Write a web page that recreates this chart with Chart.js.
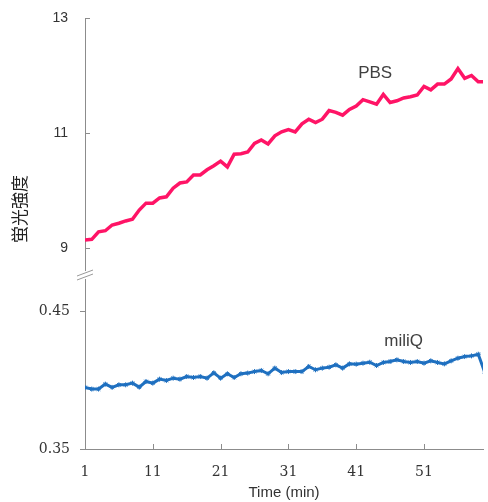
<!DOCTYPE html>
<html>
<head>
<meta charset="utf-8">
<script src="https://cdn.jsdelivr.net/npm/chart.js@4.4.1/dist/chart.umd.min.js"></script>
<style>
  html, body { margin: 0; padding: 0; background: #fff; }
</style>
</head>
<body>
<canvas id="grafico" width="488" height="502"></canvas>
<script>
// minutos (eixo x)
const minutos = [1, 2, 3, 4, 5, 6, 7, 8, 9, 10, 11, 12, 13, 14, 15, 16, 17, 18, 19, 20,
  21, 22, 23, 24, 25, 26, 27, 28, 29, 30, 31, 32, 33, 34, 35, 36, 37, 38, 39, 40,
  41, 42, 43, 44, 45, 46, 47, 48, 49, 50, 51, 52, 53, 54, 55, 56, 57, 58, 59, 60];

// PBS - painel de cima
const pbs = [9.14, 9.15, 9.28, 9.30, 9.40, 9.43, 9.47, 9.50, 9.66, 9.78,
  9.78, 9.87, 9.89, 10.04, 10.13, 10.15, 10.27, 10.27, 10.36, 10.43,
  10.51, 10.41, 10.63, 10.64, 10.67, 10.82, 10.88, 10.81, 10.95, 11.02,
  11.06, 11.02, 11.16, 11.24, 11.18, 11.24, 11.39, 11.36, 11.31, 11.41,
  11.47, 11.58, 11.54, 11.50, 11.67, 11.53, 11.56, 11.61, 11.63, 11.66,
  11.81, 11.75, 11.85, 11.85, 11.94, 12.12, 11.95, 12.00, 11.89, 11.89];

// miliQ - painel de baixo
const miliQ = [0.3947, 0.3935, 0.3935, 0.3971, 0.3947, 0.3966, 0.3966, 0.3978, 0.3949, 0.3990,
  0.3978, 0.4007, 0.3997, 0.4014, 0.4007, 0.4026, 0.4019, 0.4026, 0.4014, 0.4053,
  0.4014, 0.4046, 0.4019, 0.4046, 0.4051, 0.4062, 0.4070, 0.4046, 0.4087, 0.4055,
  0.4062, 0.4062, 0.4062, 0.4099, 0.4075, 0.4087, 0.4094, 0.4111, 0.4087, 0.4118,
  0.4116, 0.4123, 0.4130, 0.4106, 0.4128, 0.4135, 0.4147, 0.4135, 0.4128, 0.4135,
  0.4123, 0.4140, 0.4128, 0.4118, 0.4140, 0.4159, 0.4171, 0.4176, 0.4188, 0.4050];

const ticksX = [1, 11, 21, 31, 41, 51];
const ticksAlto = [9, 11, 13];
const ticksBaixo = [0.35, 0.45];

const corEixo = "#8c8c8c";

// marcas dos ticks, quebra do eixo, rótulos e título vertical
const decoracao = {
  id: "decoracao",
  afterDraw(chart) {
    const { ctx } = chart;
    const x = chart.scales.x;
    const yAlto = chart.scales.yAlto;
    const yBaixo = chart.scales.yBaixo;
    const eixo = yAlto.right;
    ctx.save();
    ctx.strokeStyle = corEixo;
    ctx.lineWidth = 1;
    ctx.beginPath();
    ticksX.forEach(v => {
      const px = Math.round(x.getPixelForValue(v)) + 0.5;
      ctx.moveTo(px, x.top);
      ctx.lineTo(px, x.top - 5);
    });
    ticksAlto.forEach(v => {
      const py = Math.round(yAlto.getPixelForValue(v)) + 0.5;
      ctx.moveTo(eixo, py);
      ctx.lineTo(eixo + 5, py);
    });
    ticksBaixo.forEach(v => {
      const py = Math.round(yBaixo.getPixelForValue(v)) + 0.5;
      ctx.moveTo(eixo, py);
      ctx.lineTo(eixo - 5, py);
    });
    ctx.stroke();

    // quebra
    const yb = yAlto.bottom;
    ctx.fillStyle = "#fff";
    ctx.fillRect(eixo - 3, yb - 4, 6, 8);
    ctx.strokeStyle = "#999";
    ctx.beginPath();
    ctx.moveTo(eixo - 8, yb + 1);
    ctx.lineTo(eixo + 8, yb - 5);
    ctx.moveTo(eixo - 8, yb + 5);
    ctx.lineTo(eixo + 8, yb - 1);
    ctx.stroke();

    ctx.fillStyle = "#404040";
    ctx.font = '17px "Liberation Sans"';
    ctx.textAlign = "center";
    ctx.textBaseline = "middle";
    ctx.fillText("PBS", x.getPixelForValue(43.8), yAlto.getPixelForValue(12.04));
    ctx.fillText("miliQ", x.getPixelForValue(48), yBaixo.getPixelForValue(0.4285));

    ctx.fillStyle = "#222";
    ctx.translate(20, 209);
    ctx.rotate(-Math.PI / 2);
    ctx.font = '17px "Noto Sans CJK JP"';
    ctx.fillText("蛍光強度", 0, 0);
    ctx.restore();
  }
};

const semPadding = s => { s.width = 85; s.paddingTop = 0; s.paddingBottom = 0; };

new Chart(document.getElementById("grafico"), {
  type: "line",
  data: {
    datasets: [
      {
        label: "PBS",
        data: minutos.map((m, i) => ({ x: m, y: pbs[i] })),
        yAxisID: "yAlto",
        borderColor: "#ff1466",
        borderWidth: 3.5,
        pointRadius: 0,
        tension: 0
      },
      {
        label: "miliQ",
        data: minutos.map((m, i) => ({ x: m, y: miliQ[i] })),
        yAxisID: "yBaixo",
        borderColor: "#1f70c0",
        backgroundColor: "#1f70c0",
        borderWidth: 3,
        pointStyle: "star",
        pointRadius: 2.5,
        pointBorderWidth: 1,
        tension: 0
      }
    ]
  },
  options: {
    responsive: false,
    animation: false,
    devicePixelRatio: 1,
    layout: { padding: { top: 18, right: 0, left: 0, bottom: 0 } },
    plugins: {
      legend: { display: false },
      tooltip: { enabled: false }
    },
    scales: {
      x: {
        type: "linear",
        min: 1,
        max: 59.7,
        afterBuildTicks: s => { s.ticks = ticksX.map(v => ({ value: v })); },
        afterFit: s => { s.height = 53; s.paddingLeft = 0; s.paddingRight = 0; },
        grid: { display: false, drawTicks: false },
        border: { color: corEixo },
        ticks: {
          font: { family: "DejaVu Serif", size: 14 },
          color: "#333",
          padding: 15
        },
        title: {
          display: true,
          text: "Time (min)",
          font: { family: "Liberation Sans", size: 15 },
          color: "#333",
          padding: { top: 2, bottom: 0 }
        }
      },
      yBaixo: {
        type: "linear",
        position: "left",
        stack: "y",
        stackWeight: 174,
        min: 0.35,
        max: 0.4763,
        afterBuildTicks: s => { s.ticks = ticksBaixo.map(v => ({ value: v })); },
        afterFit: semPadding,
        grid: { display: false, drawTicks: false },
        border: { color: corEixo },
        ticks: {
          font: { family: "DejaVu Serif", size: 14 },
          color: "#333",
          padding: 15,
          callback: v => v.toFixed(2)
        }
      },
      yAlto: {
        type: "linear",
        position: "left",
        stack: "y",
        stackWeight: 257,
        min: 8.53,
        max: 13,
        afterBuildTicks: s => { s.ticks = ticksAlto.map(v => ({ value: v })); },
        afterFit: semPadding,
        grid: { display: false, drawTicks: false },
        border: { color: corEixo },
        ticks: {
          font: { family: "Liberation Sans", size: 14 },
          color: "#333",
          padding: 17
        }
      }
    }
  },
  plugins: [decoracao]
});
</script>
</body>
</html>
